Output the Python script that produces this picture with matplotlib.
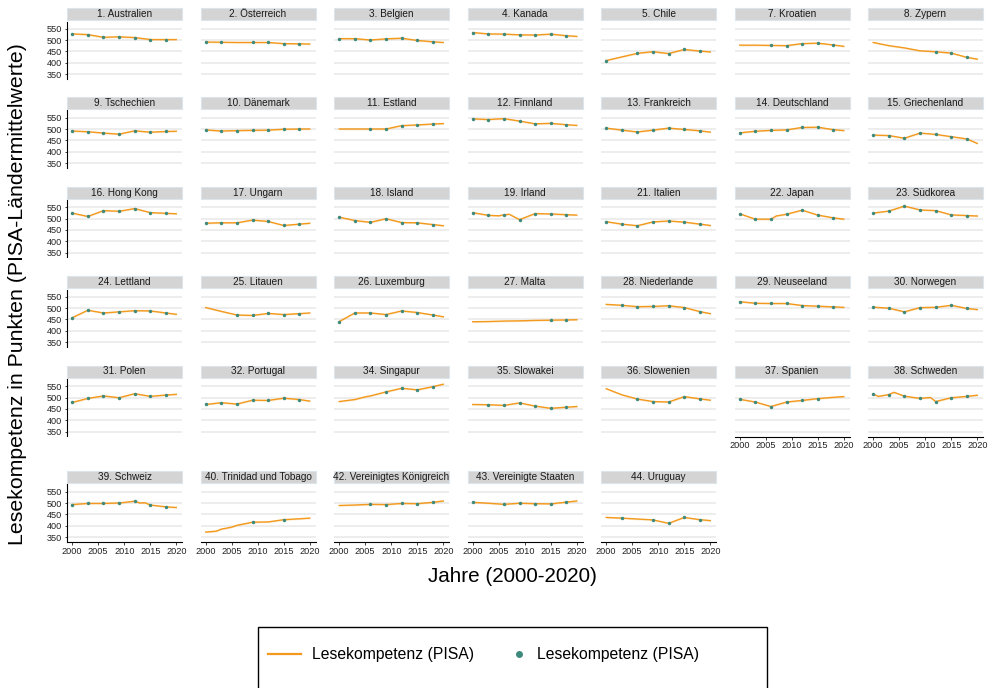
import matplotlib
matplotlib.use('Agg')
import matplotlib.pyplot as plt
from matplotlib.patches import Rectangle
from matplotlib.lines import Line2D
import numpy as np

plt.rcParams['font.family'] = ['Liberation Sans', 'DejaVu Sans']

N = None
PISA_YEARS = [2000, 2003, 2006, 2009, 2012, 2015, 2018]
LINE_YEARS = [2000, 2003, 2006, 2009, 2012, 2015, 2018, 2020]
Y_TICKS = [350, 400, 450, 500, 550]
X_TICKS = [2000, 2005, 2010, 2015, 2020]

countries = [
    "1. Australien", "2. Österreich", "3. Belgien", "4. Kanada", "5. Chile", "7. Kroatien", "8. Zypern",
    "9. Tschechien", "10. Dänemark", "11. Estland", "12. Finnland", "13. Frankreich", "14. Deutschland", "15. Griechenland",
    "16. Hong Kong", "17. Ungarn", "18. Island", "19. Irland", "21. Italien", "22. Japan", "23. Südkorea",
    "24. Lettland", "25. Litauen", "26. Luxemburg", "27. Malta", "28. Niederlande", "29. Neuseeland", "30. Norwegen",
    "31. Polen", "32. Portugal", "34. Singapur", "35. Slowakei", "36. Slowenien", "37. Spanien", "38. Schweden",
    "39. Schweiz", "40. Trinidad und Tobago", "42. Vereinigtes Königreich", "43. Vereinigte Staaten", "44. Uruguay",
]

# PISA reading scores (points) at PISA_YEARS
pisa_points = {
    "1. Australien": [528, 525, 513, 515, 512, 503, 503],
    "2. Österreich": [492, 491, N, 490, 490, 485, 484],
    "3. Belgien": [507, 507, 501, 506, 509, 499, 493],
    "4. Kanada": [534, 528, 527, 524, 523, 527, 520],
    "5. Chile": [410, N, 442, 449, 441, 459, 452],
    "7. Kroatien": [N, N, 477, 476, 485, 487, 479],
    "8. Zypern": [N, N, N, N, 449, 443, 424],
    "9. Tschechien": [492, 489, 483, 478, 493, 487, 490],
    "10. Dänemark": [497, 492, 494, 495, 496, 500, 501],
    "11. Estland": [N, N, 501, 501, 516, 519, 523],
    "12. Finnland": [546, 543, 547, 536, 524, 526, 520],
    "13. Frankreich": [505, 496, 488, 496, 505, 499, 493],
    "14. Deutschland": [484, 491, 495, 497, 508, 509, 498],
    "15. Griechenland": [474, 472, 460, 483, 477, 467, 457],
    "16. Hong Kong": [525, 510, 536, 533, 545, 527, 524],
    "17. Ungarn": [480, 482, 482, 494, 488, 470, 476],
    "18. Island": [507, 492, 484, 500, 483, 482, 474],
    "19. Irland": [527, 515, 517, 496, 523, 521, 518],
    "21. Italien": [487, 476, 469, 486, 490, 485, 476],
    "22. Japan": [522, 498, 498, 520, 538, 516, 504],
    "23. Südkorea": [525, 534, 556, 539, 536, 517, 514],
    "24. Lettland": [458, 491, 479, 484, 489, 488, 479],
    "25. Litauen": [N, N, 470, 468, 477, 472, 476],
    "26. Luxemburg": [441, 479, 479, 472, 488, 481, 470],
    "27. Malta": [N, N, N, N, N, 447, 448],
    "28. Niederlande": [N, 513, 507, 508, 511, 503, 485],
    "29. Neuseeland": [529, 522, 521, 521, 512, 509, 506],
    "30. Norwegen": [505, 500, 484, 503, 504, 513, 499],
    "31. Polen": [479, 497, 508, 500, 518, 506, 512],
    "32. Portugal": [470, 478, 472, 489, 488, 498, 492],
    "34. Singapur": [N, N, N, 526, 542, 535, 549],
    "35. Slowakei": [N, 469, 466, 477, 463, 453, 458],
    "36. Slowenien": [N, N, 494, 483, 481, 505, 495],
    "37. Spanien": [493, 481, 461, 481, 488, 496, N],
    "38. Schweden": [516, 514, 507, 497, 483, 500, 506],
    "39. Schweiz": [494, 499, 499, 501, 509, 492, 484],
    "40. Trinidad und Tobago": [N, N, N, 416, N, 427, N],
    "42. Vereinigtes Königreich": [N, N, 495, 494, 499, 498, 504],
    "43. Vereinigte Staaten": [504, N, 495, 500, 498, 497, 505],
    "44. Uruguay": [N, 434, N, 426, 411, 437, 427],
}

# Annual trend line, read at LINE_YEARS
line_values = {
    "1. Australien": [528, 525, 513, 515, 512, 503, 503, 503],
    "2. Österreich": [492, 491, 490, 490, 490, 485, 484, 483],
    "3. Belgien": [507, 507, 501, 506, 509, 499, 493, 490],
    "4. Kanada": [534, 528, 527, 524, 523, 527, 520, 517],
    "5. Chile": [410, 426, 442, 449, 441, 459, 452, 448],
    "7. Kroatien": [478, 478, 477, 476, 485, 487, 479, 473],
    "8. Zypern": [490, 476, 466, 453, 449, 443, 424, 416],
    "9. Tschechien": [492, 489, 483, 478, 493, 487, 490, 491],
    "10. Dänemark": [497, 492, 494, 495, 496, 500, 501, 501],
    "11. Estland": [501, 501, 501, 501, 516, 519, 523, 525],
    "12. Finnland": [546, 543, 547, 536, 524, 526, 520, 517],
    "13. Frankreich": [505, 496, 488, 496, 505, 499, 493, 487],
    "14. Deutschland": [484, 491, 495, 497, 508, 509, 498, 494],
    "15. Griechenland": [474, 472, 460, 483, 477, 467, 457, 437],
    "16. Hong Kong": [525, 510, 536, 533, 545, 527, 524, 522],
    "17. Ungarn": [480, 482, 482, 494, 488, 470, 476, 480],
    "18. Island": [507, 492, 484, 500, 483, 482, 474, 469],
    "19. Irland": [527, 515, 517, 496, 523, 521, 518, 516],
    "21. Italien": [487, 476, 469, 486, 490, 485, 476, 470],
    "22. Japan": [522, 498, 498, 520, 538, 516, 504, 498],
    "23. Südkorea": [525, 534, 556, 539, 536, 517, 514, 512],
    "24. Lettland": [458, 491, 479, 484, 489, 488, 479, 473],
    "25. Litauen": [503, 486, 470, 468, 477, 472, 476, 479],
    "26. Luxemburg": [441, 479, 479, 472, 488, 481, 470, 462],
    "27. Malta": [440, 441, 443, 444, 446, 447, 448, 449],
    "28. Niederlande": [517, 513, 507, 508, 511, 503, 485, 476],
    "29. Neuseeland": [529, 522, 521, 521, 512, 509, 506, 504],
    "30. Norwegen": [505, 500, 484, 503, 504, 513, 499, 494],
    "31. Polen": [479, 497, 508, 500, 518, 506, 512, 515],
    "32. Portugal": [470, 478, 472, 489, 488, 498, 492, 485],
    "34. Singapur": [483, 492, 508, 526, 542, 535, 549, 560],
    "35. Slowakei": [470, 469, 466, 477, 463, 453, 458, 461],
    "36. Slowenien": [540, 513, 494, 483, 481, 505, 495, 489],
    "37. Spanien": [493, 481, 461, 481, 488, 496, 502, 505],
    "38. Schweden": [516, 514, 507, 497, 483, 500, 506, 511],
    "39. Schweiz": [494, 499, 499, 501, 509, 492, 484, 481],
    "40. Trinidad und Tobago": [372, 385, 402, 416, 417, 427, 431, 434],
    "42. Vereinigtes Königreich": [490, 492, 495, 494, 499, 498, 504, 510],
    "43. Vereinigte Staaten": [504, 500, 495, 500, 498, 497, 505, 510],
    "44. Uruguay": [437, 434, 430, 426, 411, 437, 427, 423],
}

# Extra bends of the trend line between PISA years: (years, values)
extra_knots = {
    "19. Irland": ([2005, 2007, 2010], [513, 520, 505]),
    "22. Japan": ([2007], [512]),
    "34. Singapur": ([2005], [504]),
    "36. Slowenien": ([2001], [531]),
    "38. Schweden": ([2001, 2004, 2011], [506, 524, 501]),
    "39. Schweiz": ([2013, 2014], [501, 502]),
    "40. Trinidad und Tobago": ([2002, 2005], [376, 394]),
}

LINE_COLOR = '#F39A1E'
POINT_COLOR = '#3E8A7C'
GRID_COLOR = '#E8E8E8'
STRIP_FACE = '#D4D4D4'
STRIP_EDGE = '#DCE5EC'

W, H = 989, 688
fig = plt.figure(figsize=(W / 100, H / 100), dpi=100)

ncols = 7
col_left0, col_pitch, panel_w = 67, 133.5, 115
row_tops = [21.5, 110.5, 200, 289.5, 379, 484.5]
panel_h = 57.5

n = len(countries)
for i, name in enumerate(countries):
    r, c = divmod(i, ncols)
    left = col_left0 + c * col_pitch
    top = row_tops[r]
    ax = fig.add_axes([left / W, 1 - (top + panel_h) / H, panel_w / W, panel_h / H])
    ax.set_xlim(1999, 2021.1)
    ax.set_ylim(328, 583)
    for yv in Y_TICKS:
        ax.axhline(yv, color=GRID_COLOR, lw=1.1, zorder=0)

    # trend line
    lx = list(LINE_YEARS)
    ly = list(line_values[name])
    if name in extra_knots:
        ex, ey = extra_knots[name]
        lx += ex
        ly += ey
    order = np.argsort(lx)
    lx = np.array(lx)[order]
    ly = np.array(ly, dtype=float)[order]
    ax.fill_between(lx, ly - 3.5, ly + 3.5, color=LINE_COLOR, alpha=0.22, lw=0, zorder=1)
    ax.plot(lx, ly, color=LINE_COLOR, lw=1.0, zorder=2)

    # PISA points
    px = [y for y, v in zip(PISA_YEARS, pisa_points[name]) if v is not None]
    pv = [v for v in pisa_points[name] if v is not None]
    ax.plot(px, pv, 'o', color=POINT_COLOR, ms=2.5, mew=0, zorder=3)

    is_bottom = (i + ncols) >= n
    for s in ['top', 'right']:
        ax.spines[s].set_visible(False)
    ax.spines['left'].set_visible(c == 0)
    ax.spines['bottom'].set_visible(is_bottom)
    ax.spines['left'].set_linewidth(0.8)
    ax.spines['bottom'].set_linewidth(0.8)
    ax.set_yticks(Y_TICKS)
    ax.set_xticks(X_TICKS)
    ax.tick_params(axis='both', labelsize=6.6, length=1.8, width=0.6, pad=1.5, colors='#222222')
    if c != 0:
        ax.tick_params(axis='y', left=False, labelleft=False)
    if not is_bottom:
        ax.tick_params(axis='x', bottom=False, labelbottom=False)
    ax.patch.set_alpha(0)

    # strip
    sb = 1 + 1.5 / panel_h
    sh = 12 / panel_h
    ax.add_patch(Rectangle((0, sb), 1, sh, transform=ax.transAxes, facecolor=STRIP_FACE,
                           edgecolor=STRIP_EDGE, lw=0.8, clip_on=False))
    ax.text(0.5, sb + sh / 2, name, transform=ax.transAxes, ha='center', va='center',
            fontsize=7.2, color='#1a1a1a', clip_on=False)

fig.text(18 / W, 1 - 294 / H, 'Lesekompetenz in Punkten (PISA-Ländermittelwerte)', rotation=90,
         ha='center', va='center', fontsize=15.3)
fig.text(512 / W, 1 - 577 / H, 'Jahre (2000-2020)', ha='center', va='center', fontsize=14.9)

# legend box (bottom cut by figure edge)
fig.patches.append(Rectangle((258 / W, -0.05), (767 - 258) / W, (1 - 627 / H) + 0.05,
                             transform=fig.transFigure, facecolor='none', edgecolor='black', lw=1.0))
h1 = Line2D([], [], color=LINE_COLOR, lw=1.6)
h2 = Line2D([], [], color=POINT_COLOR, marker='o', ls='none', ms=4)
fig.legend([h1], ['Lesekompetenz (PISA)'], loc='center left', bbox_to_anchor=(268 / W, 1 - 655 / H),
           frameon=False, fontsize=11.3, handlelength=2.1, handletextpad=0.7, borderpad=0, borderaxespad=0)
fig.legend([h2], ['Lesekompetenz (PISA)'], loc='center left', bbox_to_anchor=(511 / W, 1 - 655 / H),
           frameon=False, fontsize=11.3, handlelength=1.0, handletextpad=0.65, borderpad=0, borderaxespad=0)

fig.savefig('out.png', dpi=100)
